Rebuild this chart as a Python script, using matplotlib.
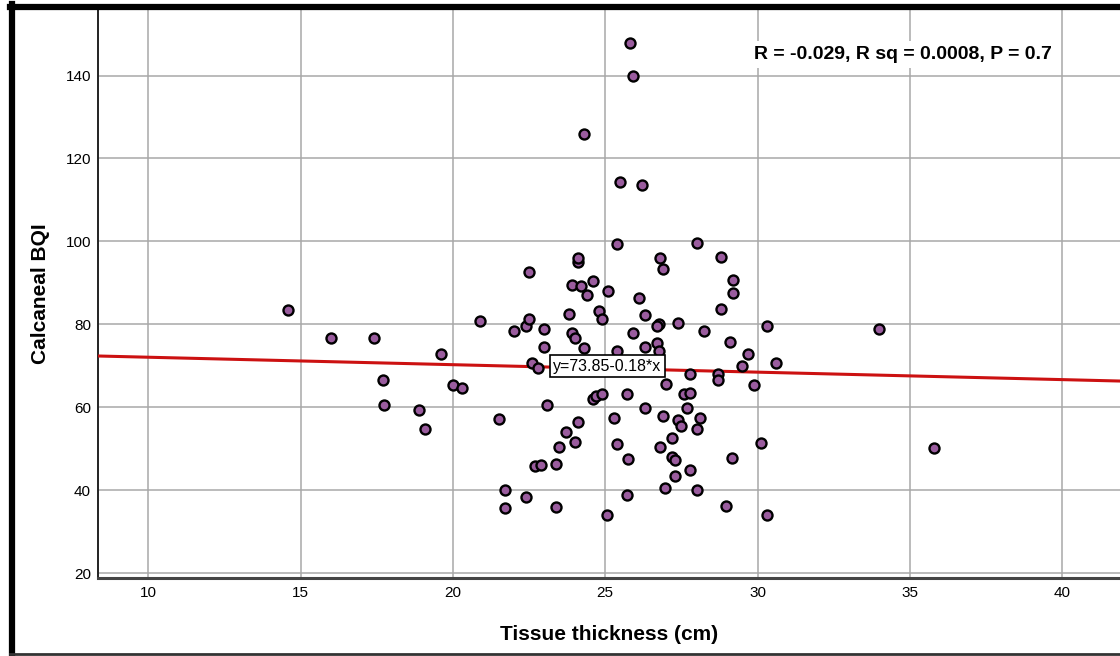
import matplotlib
matplotlib.use('Agg')
import matplotlib.pyplot as plt
from matplotlib.lines import Line2D
import numpy as np

plt.rcParams['font.family'] = ['Liberation Sans', 'DejaVu Sans']

# tissue thickness (cm) and calcaneal BQI
thickness = [14.6, 16.0, 17.4, 17.7, 17.75, 18.9, 19.1, 19.6, 20.0, 20.3,
             20.9, 21.5, 21.7, 21.7, 22.0, 22.4, 22.4, 22.5, 22.5, 22.6,
             22.8, 22.7, 22.9, 23.0, 23.0, 23.1, 23.4, 23.4, 23.5, 23.7,
             23.8, 23.9, 23.9, 24.0, 24.0, 24.1, 24.1, 24.1, 24.2, 24.3,
             24.3, 24.4, 24.6, 24.6, 24.7, 24.9, 24.8, 24.9, 25.1, 25.4,
             25.9, 26.1, 25.7, 25.3, 25.4, 25.75, 25.7, 25.05, 25.8, 25.9,
             25.5, 26.2, 28.0, 28.8, 26.8, 26.9, 29.2, 29.2, 28.8, 26.3,
             26.75, 26.7, 27.4, 28.25, 30.3, 26.3, 26.7, 26.75, 25.4, 29.1,
             29.7, 30.6, 29.5, 27.0, 27.8, 28.7, 28.7, 29.9, 27.6, 27.8,
             26.3, 27.7, 26.9, 27.4, 27.5, 28.1, 28.0, 27.2, 26.8, 27.2,
             27.3, 27.8, 27.3, 30.1, 29.15, 26.95, 28.0, 28.95, 30.3, 34.0,
             35.8]
bqi = [83.4, 76.6, 76.6, 66.5, 60.5, 59.3, 54.7, 72.8, 65.3, 64.6,
       80.7, 57.1, 40.0, 35.6, 78.3, 79.5, 38.3, 92.5, 81.2, 70.6,
       69.4, 45.8, 46.0, 78.8, 74.6, 60.5, 46.3, 35.9, 50.3, 54.0,
       82.4, 77.8, 89.4, 76.6, 51.6, 56.5, 95.0, 95.9, 89.2, 74.2,
       125.8, 87.0, 90.4, 62.0, 62.6, 63.3, 83.2, 81.2, 88.0, 99.3,
       78.0, 86.3, 63.1, 57.3, 51.1, 47.5, 38.8, 34.0, 147.9, 139.8,
       114.3, 113.5, 99.7, 96.3, 95.9, 93.4, 90.6, 87.5, 83.8, 82.2,
       80.0, 79.5, 80.2, 78.4, 79.6, 74.6, 75.4, 73.6, 73.6, 75.8,
       72.8, 70.6, 70.0, 65.5, 68.0, 68.0, 66.6, 65.4, 63.1, 63.5,
       59.7, 59.7, 57.8, 56.9, 55.5, 57.3, 54.7, 52.5, 50.5, 47.9,
       47.3, 44.9, 43.4, 51.3, 47.7, 40.4, 40.1, 36.2, 34.0, 78.8,
       50.1]

intercept = 73.85
slope = -0.18
x_ticks = [10, 15, 20, 25, 30, 35, 40]
y_ticks = [20, 40, 60, 80, 100, 120, 140]

fig = plt.figure(figsize=(11.2, 6.56), dpi=100)
W, H = 1120, 656
ax = fig.add_axes([98 / W, 1 - 578 / H, 1 - 98 / W, (578 - 10) / H])

xlim = (8.35, 41.9)
ylim = (18.8, 155.8)
ax.set_xlim(*xlim)
ax.set_ylim(*ylim)

ax.set_xticks(x_ticks)
ax.set_yticks(y_ticks)
ax.grid(True, color='#a8a8a8', linewidth=1.1)
ax.set_axisbelow(True)
ax.tick_params(length=0, labelsize=11, pad=5)
ax.tick_params(axis='x', pad=6)

for s in ['top', 'right']:
    ax.spines[s].set_visible(False)
ax.spines['left'].set_color('#222222')
ax.spines['left'].set_linewidth(1.4)
ax.spines['bottom'].set_color('#444444')
ax.spines['bottom'].set_linewidth(2.2)

# fit line across the whole x range
xs = np.array(xlim)
ax.plot(xs, intercept + slope * xs, color='#cc1111', linewidth=2.2, zorder=3)

ax.scatter(thickness, bqi, s=52, color='#9a5c9e', edgecolor='black',
           linewidth=1.7, zorder=4)

ax.text(23.3, 69.9, 'y=73.85-0.18*x', fontsize=11.5, va='center', ha='left',
        zorder=6,
        bbox=dict(boxstyle='square,pad=0.2', facecolor='white',
                  edgecolor='black', linewidth=1.2))

ax.text(34.76, 145.1, 'R = -0.029, R sq = 0.0008, P = 0.7', fontsize=14,
        fontweight='bold', ha='center', va='center', zorder=6,
        bbox=dict(boxstyle='square,pad=0.25', facecolor='white',
                  edgecolor='none'))

ax.set_xlabel('Tissue thickness (cm)', fontsize=15, fontweight='bold',
              labelpad=18)
ax.set_ylabel('Calcaneal BQI', fontsize=15, fontweight='bold', labelpad=11)

# outer frame of the screenshot
fig.add_artist(Line2D([12 / W, 12 / W], [1 - 4 / H, 1 - 654 / H],
                      color='black', linewidth=4.5))
fig.add_artist(Line2D([10 / W, 1.0], [1 - 7 / H, 1 - 7 / H],
                      color='black', linewidth=4.5))
fig.add_artist(Line2D([10 / W, 1.0], [1 - 654 / H, 1 - 654 / H],
                      color='#333333', linewidth=2))

fig.savefig('out.png', dpi=100)
